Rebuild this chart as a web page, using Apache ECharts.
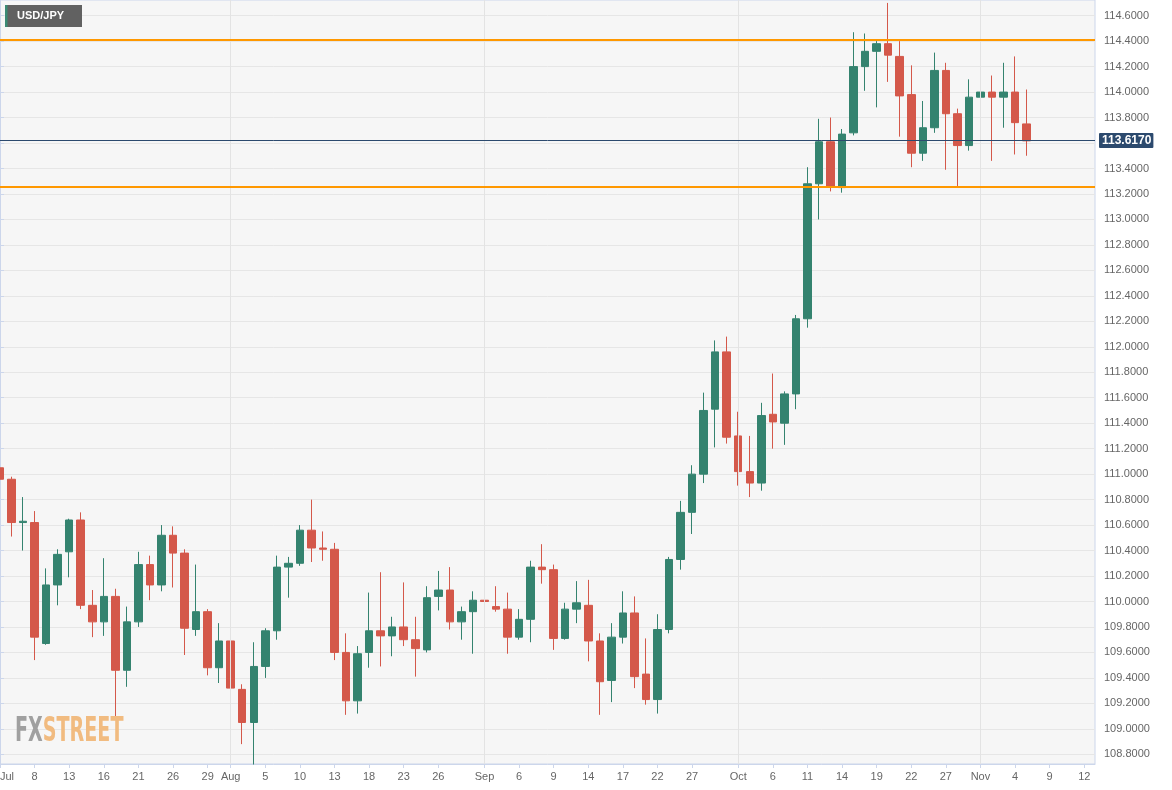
<!DOCTYPE html>
<html><head><meta charset="utf-8">
<script src="https://cdn.jsdelivr.net/npm/echarts@6/dist/echarts.min.js"></script>
<style>html,body{margin:0;padding:0;background:#fff}#c{width:1172px;height:790px}</style>
</head><body><div id="c"></div>
<script>
// USD/JPY daily, 2021 (trading days)
const dates = [
 '07-05','07-06','07-07','07-08','07-09','07-12','07-13','07-14','07-15','07-16',
 '07-19','07-20','07-21','07-22','07-23','07-26','07-27','07-28','07-29','07-30',
 '08-02','08-03','08-04','08-05','08-06','08-09','08-10','08-11','08-12','08-13',
 '08-16','08-17','08-18','08-19','08-20','08-23','08-24','08-25','08-26','08-27',
 '08-30','08-31','09-01','09-02','09-03','09-06','09-07','09-08','09-09','09-10',
 '09-13','09-14','09-15','09-16','09-17','09-20','09-21','09-22','09-23','09-24',
 '09-27','09-28','09-29','09-30','10-01','10-04','10-05','10-06','10-07','10-08',
 '10-11','10-12','10-13','10-14','10-15','10-18','10-19','10-20','10-21','10-22',
 '10-25','10-26','10-27','10-28','10-29','11-01','11-02','11-03','11-04','11-05'
];
const open = [
 111.05,110.96,110.62,110.62,109.67,110.13,110.39,110.64,109.97,109.84,
 110.04,109.46,109.84,110.29,110.13,110.52,110.38,109.78,109.92,109.48,
 109.69,109.31,109.05,109.49,109.77,110.27,110.30,110.56,110.42,110.41,
 109.60,109.22,109.60,109.77,109.73,109.80,109.70,109.62,110.04,110.09,
 109.84,109.92,110.01,109.96,109.94,109.72,109.86,110.27,110.25,109.71,
 109.94,109.97,109.69,109.38,109.72,109.91,109.43,109.23,109.78,110.33,
 110.70,111.00,111.51,111.96,111.30,111.02,110.93,111.47,111.40,111.63,
 112.22,113.28,113.61,113.25,113.68,114.20,114.32,114.38,114.28,113.98,
 113.52,113.72,114.17,113.83,113.58,113.96,114.00,113.96,114.00,113.75
];
const close = [
 110.96,110.62,110.63,109.72,110.13,110.37,110.64,109.97,109.84,110.04,
 109.46,109.84,110.29,110.13,110.52,110.38,109.79,109.92,109.48,109.69,
 109.32,109.05,109.49,109.77,110.27,110.30,110.56,110.42,110.41,109.60,
 109.22,109.59,109.77,109.73,109.80,109.70,109.63,110.03,110.09,109.84,
 109.92,110.01,110.00,109.94,109.72,109.86,110.27,110.25,109.71,109.94,
 109.99,109.69,109.37,109.72,109.91,109.41,109.23,109.78,110.33,110.70,
 111.00,111.50,111.96,111.29,111.02,110.93,111.46,111.41,111.63,112.22,
 113.28,113.61,113.26,113.67,114.20,114.32,114.38,114.29,113.97,113.52,
 113.72,114.17,113.83,113.58,113.96,114.00,113.96,114.00,113.76,113.617
];
const low = [
 110.79,110.51,110.40,109.54,109.66,109.97,110.19,109.94,109.72,109.73,
 109.07,109.33,109.80,110.01,110.08,110.11,109.58,109.73,109.42,109.36,
 109.18,108.88,108.72,109.40,109.70,110.03,110.28,110.31,110.32,109.54,
 109.11,109.12,109.48,109.49,109.57,109.65,109.41,109.60,109.93,109.78,
 109.70,109.59,109.88,109.92,109.59,109.70,109.68,110.14,109.62,109.70,
 109.83,109.53,109.11,109.21,109.67,109.32,109.19,109.12,109.75,110.25,
 110.53,110.93,111.21,111.24,110.91,110.82,110.87,111.20,111.23,111.51,
 112.15,113.00,113.22,113.21,113.66,114.01,113.88,114.08,113.65,113.41,
 113.46,113.68,113.39,113.26,113.54,113.94,113.46,113.72,113.51,113.50
];
const high = [
 111.19,110.98,110.82,110.71,110.26,110.41,110.65,110.70,110.09,110.34,
 110.10,109.96,110.39,110.36,110.60,110.59,110.41,110.29,109.94,109.83,
 109.77,109.35,109.68,109.79,110.36,110.35,110.60,110.80,110.55,110.46,
 109.75,109.65,110.07,110.23,109.88,110.15,109.88,110.12,110.24,110.27,
 109.96,110.08,110.42,110.12,110.07,109.94,110.32,110.45,110.29,109.99,
 110.16,110.17,109.75,109.83,110.08,110.04,109.71,109.90,110.35,110.79,
 111.07,111.64,112.05,112.08,111.49,111.30,111.56,111.79,111.65,112.25,
 113.41,113.79,113.80,113.71,114.47,114.46,114.40,114.70,114.40,114.21,
 113.93,114.31,114.23,113.87,114.10,114.45,114.13,114.23,114.28,114.02
];
// x-axis ticks: bar index -> label
const xTickIdx = [0,3,6,9,12,15,18,20,23,26,29,32,35,38,42,45,48,51,54,57,60,64,67,70,73,76,79,82,85,88,91,94];
const xTickLabels = ['Jul','8','13','16','21','26','29','Aug','5','10','13','18','23','26','Sep','6','9','14','17','22','27','Oct','6','11','14','19','22','27','Nov','4','9','12'];
const monthStartIdx = [20,42,64,85];
const yTicks = [108.8,109.0,109.2,109.4,109.6,109.8,110.0,110.2,110.4,110.6,110.8,111.0,111.2,111.4,111.6,111.8,112.0,112.2,112.4,112.6,112.8,113.0,113.2,113.4,113.6,113.8,114.0,114.2,114.4,114.6];
const resistanceLevel = 114.41;
const supportLevel = 113.26;
const lastPrice = 113.617;

const candleData = dates.map((d, i) => [i, open[i], close[i], low[i], high[i]]);

const chart = echarts.init(document.getElementById('c'), null, {renderer: 'canvas'});
const FONT = '"Liberation Sans", Arial, sans-serif';
const WM_FONT = '"Liberation Sans Narrow", "DejaVu Sans Condensed", sans-serif';
chart.setOption({
  animation: false,
  backgroundColor: '#ffffff',
  grid: {left: 0, right: 77, top: 0, bottom: 26, show: true, backgroundColor: '#f6f6f6', borderColor: '#ccd6eb', borderWidth: 1, containLabel: false, outerBoundsMode: 'none'},
  xAxis: {
    type: 'value', min: 0, max: 94.93,
    axisLine: {show: true, onZero: false, lineStyle: {color: '#ccd6eb'}},
    axisTick: {show: true, length: 4, customValues: xTickIdx, lineStyle: {color: '#ccd6eb'}},
    axisLabel: {customValues: xTickIdx, margin: 7, color: '#666666', fontSize: 11, fontFamily: FONT, alignMinLabel: 'left',
      formatter: v => { const k = xTickIdx.indexOf(Math.round(v)); return k >= 0 ? xTickLabels[k] : ''; }},
    splitLine: {show: false}
  },
  yAxis: {
    type: 'value', position: 'right', min: 108.724, max: 114.723, scale: true,
    axisLine: {show: true, lineStyle: {color: '#ccd6eb'}},
    axisTick: {show: true, length: 4, customValues: yTicks, lineStyle: {color: '#ccd6eb'}},
    axisLabel: {customValues: yTicks, margin: 9, color: '#666666', fontSize: 11, fontFamily: FONT,
      formatter: v => v.toFixed(4)},
    splitLine: {show: true, lineStyle: {color: '#e6e6e6', width: 1}}
  },
  series: [
    {
      type: 'line', data: [], z: 1, silent: true,
      markLine: {silent: true, symbol: 'none', animation: false, label: {show: false},
        lineStyle: {color: '#e3e3e3', type: 'solid', width: 1},
        data: monthStartIdx.map(v => ({xAxis: v}))}
    },
    {
      type: 'candlestick', z: 2, data: candleData,
      encode: {x: 0, y: [1, 2, 3, 4]},
      barWidth: 8,
      itemStyle: {color: '#34836f', color0: '#d4584a', borderColor: '#34836f', borderColor0: '#d4584a', borderWidth: 1}
    },
    {
      type: 'line', data: [], z: 5, silent: true,
      markLine: {silent: true, symbol: 'none', animation: false,
        data: [
          {yAxis: resistanceLevel, lineStyle: {color: '#ff9800', width: 2, type: 'solid'}, label: {show: false}},
          {yAxis: supportLevel, lineStyle: {color: '#ff9800', width: 2, type: 'solid'}, label: {show: false}},
          {yAxis: lastPrice, lineStyle: {color: '#2c4a6e', width: 1, type: 'solid'},
            label: {show: true, position: 'end', distance: 4, formatter: () => lastPrice.toFixed(4),
              color: '#ffffff', fontWeight: 'bold', fontSize: 12, fontFamily: FONT,
              backgroundColor: '#2c4a6e', padding: [2, 2, 1, 3], borderRadius: 1}}
        ]}
    }
  ],
  graphic: [
    {type: 'rect', left: 5, top: 5, shape: {width: 77, height: 22}, style: {fill: '#616161'}, z: 10},
    {type: 'rect', left: 5, top: 5, shape: {width: 2.5, height: 22}, style: {fill: '#3a8a74'}, z: 11},
    {type: 'text', left: 17, top: 10, z: 11, style: {text: 'USD/JPY', fill: '#ffffff', font: 'bold 11px ' + FONT}},
    {type: 'text', left: 15, top: 716, z: 3, scaleX: 0.59, scaleY: 0.93,
      style: {text: '{a|FX}{b|STREET}', rich: {
        a: {fill: '#a0a0a0', fontSize: 36, fontWeight: 'bold', fontFamily: WM_FONT},
        b: {fill: '#f1bb80', fontSize: 36, fontWeight: 'bold', fontFamily: WM_FONT}
      }}}
  ]
});
</script></body></html>
